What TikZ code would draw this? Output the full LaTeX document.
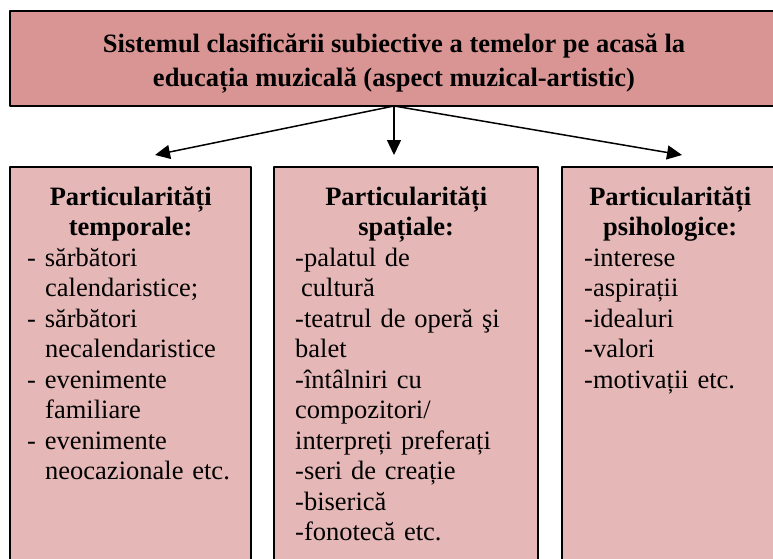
\documentclass[tikz,border=0pt]{standalone}
\usepackage{fontspec}
\setmainfont{Liberation Serif}
\usetikzlibrary{arrows.meta,positioning}
\definecolor{topfill}{HTML}{D99594}
\definecolor{subfill}{HTML}{E5B8B7}

\begin{document}
\begin{tikzpicture}[x=1pt,y=1pt,line join=round,>={Triangle[length=15pt,width=14pt]}]
	\tikzset{topbox/.style={draw=black,line width=1.3pt,fill=topfill,minimum width=768pt,minimum height=95pt,inner sep=0pt,outer sep=0pt},
		subbox/.style={draw=black,line width=1.3pt,fill=subfill,minimum height=410pt,inner sep=0pt,outer sep=0pt,anchor=north west},
		titletext/.style={anchor=north,inner sep=0pt,align=center,font=\fontsize{26.5}{34}\selectfont\bfseries},
		subtext/.style={anchor=north west,inner sep=0pt,align=left,font=\fontsize{26.5}{30.5}\selectfont,execute at begin node=\setlength{\parindent}{0pt}},
		link/.style={->,line width=1.5pt}}
	\useasboundingbox (0,0) rectangle (773,-559);
	\clip (0,0) rectangle (773,-559);
	% boxes
	\node[topbox] (sistem) at (394,-58.5) {};
	\node[subbox,minimum width=241pt] (temp) at (10,-167) {};
	\node[subbox,minimum width=264pt] (spat) at (274,-167) {};
	\node[subbox,minimum width=216pt] (psih) at (562,-167) {};
	% texts
	\node[titletext] (sistemt) at ([yshift=-17.2pt]sistem.north) {\strut Sistemul clasificării subiective a temelor pe acasă la\\ educația muzicală (aspect muzical-artistic)};
	\node[subtext,text width=207pt] (tempt) at ([xshift=17pt,yshift=-16.65pt]temp.north west) {{\centering\bfseries\strut Particularități\\ temporale:\par}
		- sărbători\\ \hspace*{18pt}calendaristice;\\
		- sărbători\\ \hspace*{18pt}necalendaristice\\
		- evenimente\\ \hspace*{18pt}familiare\\
		- evenimente\\ \hspace*{18pt}neocazionale etc.};
	\node[subtext,text width=222pt] (spatt) at ([xshift=21pt,yshift=-16.65pt]spat.north west) {{\centering\bfseries\strut Particularități\\ spațiale:\par}
		-palatul de\\ \hspace*{6pt}cultură\\
		-teatrul de operă şi\\ balet\\
		-întâlniri cu\\ compozitori/\\ interpreți preferați\\
		-seri de creație\\ -biserică\\ -fonotecă etc.};
	\node[subtext,text width=172pt] (psiht) at ([xshift=22pt,yshift=-16.65pt]psih.north west) {{\centering\bfseries\strut Particularități\\ psihologice:\par}
		-interese\\ -aspirații\\ -idealuri\\ -valori\\ -motivații etc.};
	% arrows
	\coordinate (tipT) at (155,-155);
	\coordinate (tipS) at (394,-155);
	\coordinate (tipP) at (682,-155);
	\draw[link] (sistem.south) -- (tipT);
	\draw[link] (sistem.south) -- (tipS);
	\draw[link] (sistem.south) -- (tipP);
\end{tikzpicture}
\end{document}
